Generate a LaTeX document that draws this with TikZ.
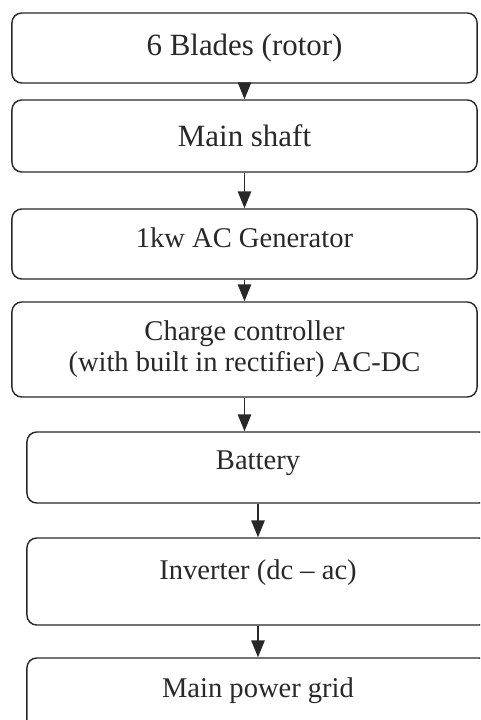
\documentclass[tikz,border=0pt]{standalone}
\usepackage{fontspec}
\setmainfont{Liberation Serif}
\usepackage{tikz}
\usetikzlibrary{arrows.meta, positioning, calc}
\definecolor{boxline}{RGB}{40, 40, 40}
\definecolor{boxtext}{RGB}{40, 40, 40}

\begin{document}
\begin{tikzpicture}[x=0.025cm, y=-0.025cm,
        stage/.style={draw=boxline, line width=1pt, rounded corners=7pt, text=boxtext, align=center, inner sep=0pt},
        bigtext/.style={font=\fontsize{22}{26}\selectfont},
        smalltext/.style={font=\fontsize{20.3}{22}\selectfont},
        flow/.style={-{Triangle[width=9.5pt, length=12pt]}, draw=boxline, line width=1pt}]
        % Page frame
        \useasboundingbox (0,0) rectangle (480,720);
        \clip (0,0) rectangle (480,720);
        
        % Upper chain (rotor to controller)
        \node[stage, bigtext, minimum width=11.625cm, minimum height=1.75cm] (blades) at (244.5,48) {6 Blades (rotor)};
        \node[stage, bigtext, minimum width=11.625cm, minimum height=1.8cm] (shaft) at (244.5,136) {Main shaft};
        \node[stage, smalltext, minimum width=11.625cm, minimum height=1.75cm, text depth=9pt] (gen) at (244.5,244) {1kw AC Generator};
        \node[stage, smalltext, minimum width=11.625cm, minimum height=2.375cm] (ctrl) at (244.5,349.5) {Charge controller\\(with built in rectifier) AC-DC};
        
        % Lower chain (storage to grid, shifted right)
        \node[stage, smalltext, minimum width=11.55cm, minimum height=1.775cm, text depth=11pt] (batt) at (258,467.5) {Battery};
        \node[stage, smalltext, minimum width=11.55cm, minimum height=2.175cm, text depth=16.5pt] (inv) at (258,581.5) {Inverter (dc -- ac)};
        \node[stage, smalltext, minimum width=11.55cm, minimum height=2.3cm, text depth=24pt] (grid) at (258,704) {Main power grid};
        
        % Connectors
        \draw[flow] (blades.south) -- (shaft.north);
        \draw[flow] (shaft.south) -- (gen.north);
        \draw[flow] (gen.south) -- (ctrl.north);
        \draw[flow] (ctrl.south) -- (ctrl.south |- batt.north);
        \draw[flow] (batt.south) -- (inv.north);
        \draw[flow] (inv.south) -- (grid.north);
    \end{tikzpicture}
\end{document}
